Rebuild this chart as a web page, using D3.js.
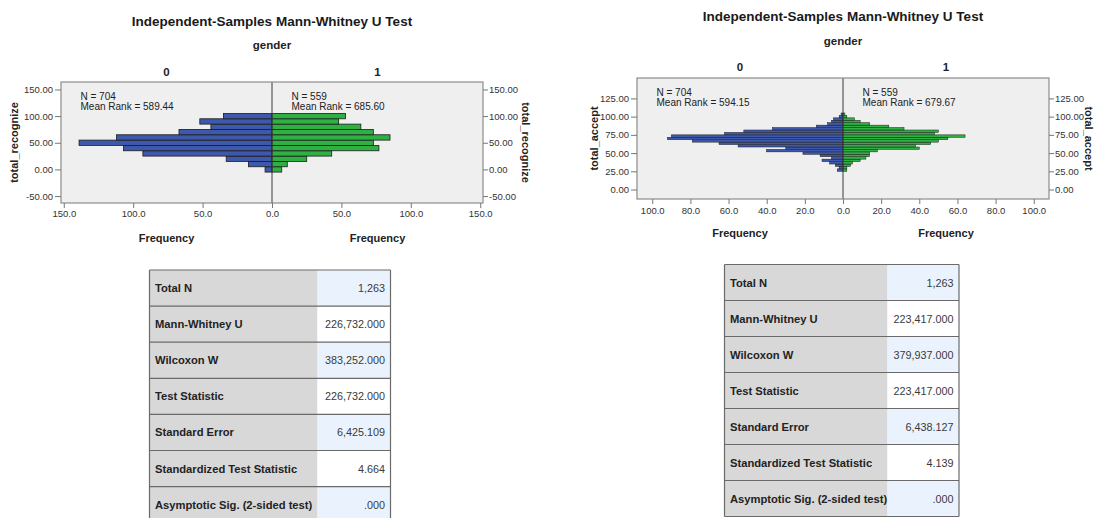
<!DOCTYPE html>
<html>
<head>
<meta charset="utf-8">
<title>Independent-Samples Mann-Whitney U Test</title>
<script src="https://cdn.jsdelivr.net/npm/d3@7"></script>
<style>
  html, body { margin: 0; padding: 0; background: #fff; }
  svg { display: block; font-family: Arial, "Liberation Sans", sans-serif; }
  .title { font-size: 13.5px; font-weight: bold; text-anchor: middle; fill: #1a1a1a; }
  .head { font-size: 11.5px; font-weight: bold; text-anchor: middle; fill: #222; }
  .note { font-size: 10px; fill: #222; }
  .axis-title { font-size: 11px; font-weight: bold; text-anchor: middle; fill: #222; }
</style>
</head>
<body>
<svg id="chart" width="1095" height="518"></svg>
<script>
const titleText = "Independent-Samples Mann-Whitney U Test";
const groupVar = "gender";
const groups = ["0", "1"];

// total_recognize: lower bin edges, bin width 10
const recognizeBins = [-5, 5, 15, 25, 35, 45, 55, 65, 75, 85, 95];
const recognizeWidth = 10;
const recognizeGroup0 = [5, 17, 33, 93, 107, 139, 112, 67, 44, 52, 35];
const recognizeGroup1 = [7, 11, 25, 43, 77, 73, 85, 73, 64, 48, 53];
const recognizeN = [704, 559];
const recognizeMeanRank = ["589.44", "685.60"];
const recognizeYTicks = [-50, 0, 50, 100, 150];
const recognizeXTicks = [0, 50, 100, 150];

// total_accept: lower bin edges, bin width 10/3
const acceptBins = [25, 28.33, 31.67, 35, 38.33, 41.67, 45, 48.33, 51.67, 55, 58.33, 61.67,
                    65, 68.33, 71.67, 75, 78.33, 81.67, 85, 88.33, 91.67, 95, 98.33, 101.67];
const acceptWidth = 3.333;
const acceptGroup0 = [3, 2, 4, 7, 11, 6, 12, 21, 40, 30, 55, 65, 79, 92, 90, 62, 52, 37, 14, 8, 6, 5, 2, 1];
const acceptGroup1 = [2, 2, 4, 5, 9, 12, 14, 14, 18, 40, 38, 46, 50, 55, 64, 48, 50, 32, 24, 14, 9, 6, 2, 1];
const acceptN = [704, 559];
const acceptMeanRank = ["594.15", "679.67"];
const acceptYTicks = [0, 25, 50, 75, 100, 125];
const acceptXTicks = [0, 20, 40, 60, 80, 100];

// test summary tables
const statLabels = ["Total N", "Mann-Whitney U", "Wilcoxon W", "Test Statistic",
                    "Standard Error", "Standardized Test Statistic", "Asymptotic Sig. (2-sided test)"];
const recognizeStats = ["1,263", "226,732.000", "383,252.000", "226,732.000", "6,425.109", "4.664", ".000"];
const acceptStats = ["1,263", "223,417.000", "379,937.000", "223,417.000", "6,438.127", "4.139", ".000"];

const colors = ["#3e58ac", "#2fb043"];

// --- layout ---
const recognizeLayout = {
    left: 61, right: 483, top: 82, bottom: 203, yDomain: [-63, 164], xMax: 152,
    titleY: 25.5, genderY: 49, groupY: 75.5, noteY: 100.3, xPad: 2, freqY: 242,
    yLabelLeft: 14, yLabelRight: 526
};
const acceptLayout = {
    left: 637, right: 1049, top: 78, bottom: 199, yDomain: [-13, 153], xMax: 108,
    titleY: 21, genderY: 44.7, groupY: 70.5, noteY: 96.3, xPad: 3, freqY: 236.7,
    yLabelLeft: 594, yLabelRight: 1089
};

const svg = d3.select("#chart");

drawPyramid(svg, {
    variable: "total_recognize", bins: recognizeBins, width: recognizeWidth,
    counts: [recognizeGroup0, recognizeGroup1], n: recognizeN, meanRank: recognizeMeanRank,
    yTicks: recognizeYTicks, xTicks: recognizeXTicks
}, recognizeLayout);

drawPyramid(svg, {
    variable: "total_accept", bins: acceptBins, width: acceptWidth,
    counts: [acceptGroup0, acceptGroup1], n: acceptN, meanRank: acceptMeanRank,
    yTicks: acceptYTicks, xTicks: acceptXTicks
}, acceptLayout);

drawTable(svg, recognizeStats, { left: 149.5, split: 317.5, right: 390.5, top: 270, rowH: 36.1 });
drawTable(svg, acceptStats, { left: 724.5, split: 887.5, right: 959, top: 264.5, rowH: 36 });

// --- back-to-back histogram ---
function drawPyramid(svg, d, L) {
    const g = svg.append("g");
    const mid = (L.left + L.right) / 2;
    const y = d3.scaleLinear().domain(L.yDomain).range([L.bottom, L.top]);
    const xs = [
        d3.scaleLinear().domain([0, L.xMax]).range([mid, L.left]),
        d3.scaleLinear().domain([0, L.xMax]).range([mid, L.right])
    ];
    const halfCenter = [(L.left + mid) / 2, (mid + L.right) / 2];

    g.append("text").attr("class", "title").attr("x", mid).attr("y", L.titleY).text(titleText);
    g.append("text").attr("class", "head").attr("x", mid).attr("y", L.genderY).text(groupVar);
    g.selectAll(".grp").data(groups).join("text")
        .attr("class", "head")
        .attr("x", (v, i) => halfCenter[i])
        .attr("y", L.groupY)
        .text(v => v);

    // plot background
    g.append("rect")
        .attr("x", L.left).attr("y", L.top)
        .attr("width", L.right - L.left).attr("height", L.bottom - L.top)
        .attr("fill", "#efefef");

    // bars, one side per group
    [0, 1].forEach(side => {
        const x = xs[side];
        const rows = d.bins.map((lo, i) => ({ lo, n: d.counts[side][i] })).filter(r => r.n > 0);
        g.append("g").selectAll("rect").data(rows).join("rect")
            .attr("x", r => side === 0 ? x(r.n) : mid)
            .attr("width", r => Math.abs(x(r.n) - mid))
            .attr("y", r => y(r.lo + d.width))
            .attr("height", r => y(r.lo) - y(r.lo + d.width))
            .attr("fill", colors[side])
            .attr("stroke", "#1c1c1c")
            .attr("stroke-width", d.bins.length > 15 ? 0.5 : 0.8);
    });

    // N and mean rank notes
    [0, 1].forEach(side => {
        const x0 = (side === 0 ? L.left : mid) + 19.5;
        g.append("text").attr("class", "note").attr("x", x0).attr("y", L.noteY)
            .text(`N = ${d.n[side]}`);
        g.append("text").attr("class", "note").attr("x", x0).attr("y", L.noteY + 10)
            .text(`Mean Rank = ${d.meanRank[side]}`);
    });

    // zero line and frame
    g.append("line")
        .attr("x1", mid).attr("x2", mid).attr("y1", L.top).attr("y2", L.bottom)
        .attr("stroke", "#3a3a3a").attr("stroke-width", 1);
    g.append("rect")
        .attr("x", L.left).attr("y", L.top)
        .attr("width", L.right - L.left).attr("height", L.bottom - L.top)
        .attr("fill", "none").attr("stroke", "#8c8c8c").attr("stroke-width", 1.2);

    // axes
    const fmtY = v => v.toFixed(2);
    const fmtX = v => v.toFixed(1);
    const axes = [
        g.append("g").attr("transform", `translate(${L.left},0)`)
            .call(d3.axisLeft(y).tickValues(d.yTicks).tickFormat(fmtY).tickSize(6).tickPadding(2)),
        g.append("g").attr("transform", `translate(${L.right},0)`)
            .call(d3.axisRight(y).tickValues(d.yTicks).tickFormat(fmtY).tickSize(5).tickPadding(1)),
        g.append("g").attr("transform", `translate(0,${L.bottom})`)
            .call(d3.axisBottom(xs[0]).tickValues(d.xTicks).tickFormat(fmtX).tickSize(5).tickPadding(L.xPad)),
        g.append("g").attr("transform", `translate(0,${L.bottom})`)
            .call(d3.axisBottom(xs[1]).tickValues(d.xTicks.filter(v => v > 0)).tickFormat(fmtX).tickSize(5).tickPadding(L.xPad))
    ];
    axes.forEach(a => {
        a.attr("font-size", 9.5).attr("font-family", null);
        a.select(".domain").remove();
        a.selectAll("line").attr("stroke", "#777");
        a.selectAll("text").attr("fill", "#333");
    });

    // axis titles
    halfCenter.forEach(cx => {
        g.append("text").attr("class", "axis-title").attr("x", cx).attr("y", L.freqY).text("Frequency");
    });
    const yMid = (L.top + L.bottom) / 2;
    g.append("text").attr("class", "axis-title")
        .attr("transform", `translate(${L.yLabelLeft},${yMid}) rotate(-90)`)
        .attr("dy", "0.35em").text(d.variable);
    g.append("text").attr("class", "axis-title")
        .attr("transform", `translate(${L.yLabelRight},${yMid}) rotate(90)`)
        .attr("dy", "0.35em").text(d.variable);
}

// --- hypothesis test summary table ---
function drawTable(svg, values, T) {
    const g = svg.append("g");
    const rows = statLabels.map((label, i) => ({ label, value: values[i], i }));
    const rowY = i => T.top + i * T.rowH;

    g.selectAll(".lab").data(rows).join("rect")
        .attr("x", T.left).attr("y", r => rowY(r.i))
        .attr("width", T.split - T.left).attr("height", T.rowH)
        .attr("fill", "#d8d8d8");
    g.selectAll(".val").data(rows).join("rect")
        .attr("x", T.split).attr("y", r => rowY(r.i))
        .attr("width", T.right - T.split).attr("height", T.rowH)
        .attr("fill", r => r.i % 2 === 0 ? "#eaf3fd" : "#ffffff");

    // row separators
    g.selectAll(".sep").data(d3.range(statLabels.length + 1)).join("line")
        .attr("x1", T.left).attr("x2", T.right)
        .attr("y1", i => rowY(i)).attr("y2", i => rowY(i))
        .attr("stroke", "#6a6a6a").attr("stroke-width", 1.2);
    [T.left, T.right].forEach(x => {
        g.append("line")
            .attr("x1", x).attr("x2", x)
            .attr("y1", T.top).attr("y2", rowY(statLabels.length))
            .attr("stroke", "#6a6a6a").attr("stroke-width", 1.2);
    });

    g.selectAll(".ltxt").data(rows).join("text")
        .attr("x", T.left + 5.5).attr("y", r => rowY(r.i) + T.rowH / 2 + 4)
        .attr("font-size", 11.2).attr("font-weight", "bold").attr("fill", "#222")
        .text(r => r.label);
    g.selectAll(".vtxt").data(rows).join("text")
        .attr("x", T.right - 5.5).attr("y", r => rowY(r.i) + T.rowH / 2 + 4)
        .attr("font-size", 10.8).attr("text-anchor", "end").attr("fill", "#3a3a3a")
        .text(r => r.value);
}
</script>
</body>
</html>
